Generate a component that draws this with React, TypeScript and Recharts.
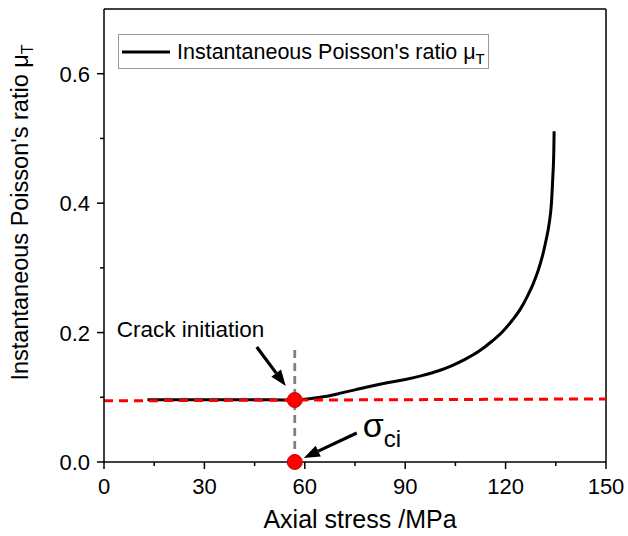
import React from 'react';
import { ComposedChart, Line, Scatter, XAxis, YAxis, ReferenceLine, ReferenceDot, Legend } from 'recharts';

// black curve: instantaneous Poisson's ratio vs axial stress
const stress = [13, 20, 30, 40, 50, 57, 60, 63, 66, 70, 75, 80, 85, 90, 95, 100, 104, 108, 112, 116, 119, 122, 124.5, 126.5, 128.3, 129.8, 131, 132.1, 133, 133.7, 134.1, 134.4, 134.5];
const ratio = [0.096, 0.096, 0.096, 0.096, 0.096, 0.0958, 0.097, 0.0988, 0.1012, 0.1055, 0.1115, 0.1175, 0.1228, 0.1275, 0.1335, 0.141, 0.149, 0.159, 0.171, 0.187, 0.201, 0.219, 0.237, 0.256, 0.276, 0.297, 0.318, 0.343, 0.368, 0.4, 0.44, 0.48, 0.511];

// red dashed reference (linear stage)
const refStress = [0, 150];
const refRatio = [0.0945, 0.0975];

// crack initiation point
const crackStress = 57;
const crackRatio = 0.0958;
const guideTop = 0.178;

const xTicks = [0, 15, 30, 45, 60, 75, 90, 105, 120, 135, 150];
const yTicks = [0, 0.1, 0.2, 0.3, 0.4, 0.5, 0.6];

const FONT = 'Arial, "Liberation Sans", sans-serif';

const curveData = stress.map((x, i) => ({ x, y: ratio[i] }));
const refData = refStress.map((x, i) => ({ x, y: refRatio[i] }));
const markerData = [
    { x: crackStress, y: crackRatio },
    { x: crackStress, y: 0 },
];

const Arrow = ({ x1, y1, x2, y2 }: { x1: number; y1: number; x2: number; y2: number }) => {
    const a = Math.atan2(y2 - y1, x2 - x1);
    const len = 16;
    const half = 6;
    const bx = x2 - len * Math.cos(a);
    const by = y2 - len * Math.sin(a);
    const p1 = `${bx + half * Math.sin(a)},${by - half * Math.cos(a)}`;
    const p2 = `${bx - half * Math.sin(a)},${by + half * Math.cos(a)}`;
    return (
        <g>
            <line x1={x1} y1={y1} x2={bx} y2={by} stroke="#000" strokeWidth={3.2} />
            <polygon points={`${x2},${y2} ${p1} ${p2}`} fill="#000" />
        </g>
    );
};

const XTick = (props: any) => {
    const { x, y, payload } = props;
    const v = payload.value;
    const major = v % 30 === 0;
    return (
        <g>
            <line x1={x} x2={x} y1={y} y2={y + (major ? 7 : 4)} stroke="#000" strokeWidth={1.5} />
            {major && (
                <text x={x} y={y + 32} textAnchor="middle" fontSize={22} fontFamily={FONT} fill="#000">
                    {v}
                </text>
            )}
        </g>
    );
};

const YTick = (props: any) => {
    const { x, y, payload } = props;
    const v = payload.value;
    const major = Math.round(v * 10) % 2 === 0;
    return (
        <g>
            <line x1={x} x2={x - (major ? 7 : 4)} y1={y} y2={y} stroke="#000" strokeWidth={1.5} />
            {major && (
                <text x={x - 14} y={y + 8} textAnchor="end" fontSize={22} fontFamily={FONT} fill="#000">
                    {v.toFixed(1)}
                </text>
            )}
        </g>
    );
};

const CrackLabel = (props: any) => {
    const { cx, cy } = props;
    return (
        <g>
            <Arrow x1={cx - 38} y1={cy - 53} x2={cx - 9} y2={cy - 14} />
            <text x={cx - 178} y={cy - 63} fontSize={22.5} fontFamily={FONT} fill="#000">
                Crack initiation
            </text>
        </g>
    );
};

const SigmaLabel = (props: any) => {
    const { cx, cy } = props;
    return (
        <g>
            <Arrow x1={cx + 62} y1={cy - 29} x2={cx + 9} y2={cy - 4} />
            <text x={cx + 68} y={cy - 25} fontSize={34} fontFamily={FONT} fill="#000">
                σ<tspan fontSize={24} dy={10}>ci</tspan>
            </text>
        </g>
    );
};

const LegendBox = () => (
    <svg width={372} height={36} style={{ display: 'block' }}>
        <rect x={0.5} y={0.5} width={370} height={34} fill="#fff" stroke="#9a9a9a" strokeWidth={1} />
        <line x1={4} x2={52} y1={18} y2={18} stroke="#000" strokeWidth={3} />
        <text x={59} y={25} fontSize={21.5} fontFamily={FONT} fill="#000">
            Instantaneous Poisson's ratio μ<tspan fontSize={15} dy={5}>T</tspan>
        </text>
    </svg>
);

const YLabel = (props: any) => {
    const { viewBox } = props;
    const cx = viewBox.x + 28;
    const cy = viewBox.y + viewBox.height / 2 - 23;
    return (
        <text
            x={cx}
            y={cy}
            transform={`rotate(-90, ${cx}, ${cy})`}
            textAnchor="middle"
            fontSize={23.5}
            fontFamily={FONT}
            fill="#000"
        >
            Instantaneous Poisson's ratio μ<tspan fontSize={16} dy={5}>T</tspan>
        </text>
    );
};

const XLabel = (props: any) => {
    const { viewBox } = props;
    return (
        <text
            x={viewBox.x + viewBox.width / 2 + 5}
            y={viewBox.y + 66}
            textAnchor="middle"
            fontSize={25}
            fontFamily={FONT}
            fill="#000"
        >
            Axial stress /MPa
        </text>
    );
};

export default function App() {
    return (
        <div style={{ position: 'absolute', left: 0, top: 0, background: '#fff' }}>
            <ComposedChart width={628} height={536} margin={{ top: 9, right: 22, left: 0, bottom: 0 }}>
                <XAxis
                    dataKey="x"
                    type="number"
                    domain={[0, 150]}
                    ticks={xTicks}
                    interval={0}
                    height={74}
                    tickSize={0}
                    tickMargin={0}
                    tickLine={false}
                    tick={<XTick />}
                    axisLine={{ stroke: '#000', strokeWidth: 1.5 }}
                    label={<XLabel />}
                />
                <YAxis
                    dataKey="y"
                    type="number"
                    domain={[0, 0.7]}
                    ticks={yTicks}
                    interval={0}
                    width={104}
                    tickSize={0}
                    tickMargin={0}
                    tickLine={false}
                    tick={<YTick />}
                    axisLine={{ stroke: '#000', strokeWidth: 1.5 }}
                    label={<YLabel />}
                />
                <ReferenceLine y={0.7} stroke="#000" strokeWidth={1.5} />
                <ReferenceLine x={150} stroke="#000" strokeWidth={1.5} />
                <ReferenceLine
                    segment={[{ x: crackStress, y: 0 }, { x: crackStress, y: guideTop }]}
                    stroke="#808080"
                    strokeWidth={2.8}
                    strokeDasharray="8 5"
                />
                <Line
                    data={curveData}
                    dataKey="y"
                    type="monotone"
                    stroke="#000"
                    strokeWidth={3}
                    dot={false}
                    activeDot={false}
                    isAnimationActive={false}
                />
                <Line
                    data={refData}
                    dataKey="y"
                    type="linear"
                    stroke="#ff0000"
                    strokeWidth={3}
                    strokeDasharray="9 6"
                    dot={false}
                    activeDot={false}
                    isAnimationActive={false}
                />
                <Scatter
                    data={markerData}
                    dataKey="y"
                    isAnimationActive={false}
                    shape={(p: any) => <circle cx={p.cx} cy={p.cy} r={7.5} fill="#ff0000" stroke="#d00000" strokeWidth={1} />}
                />
                <ReferenceDot x={crackStress} y={crackRatio} shape={<CrackLabel />} />
                <ReferenceDot x={crackStress} y={0} shape={<SigmaLabel />} />
                <Legend
                    verticalAlign="middle"
                    align="center"
                    layout="horizontal"
                    content={<LegendBox />}
                    wrapperStyle={{ left: 118, top: 34, width: 372, height: 36 }}
                />
            </ComposedChart>
        </div>
    );
}
